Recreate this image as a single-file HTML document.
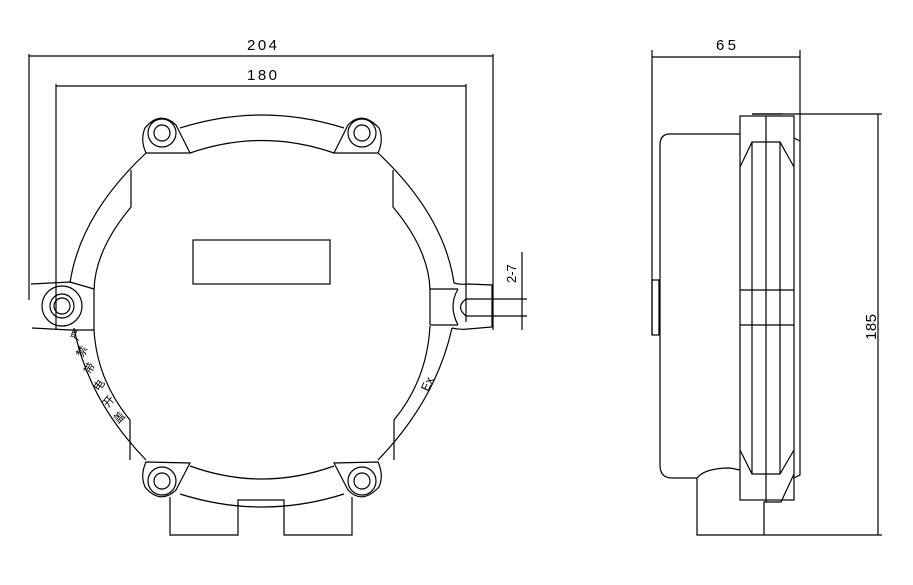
<!DOCTYPE html>
<html><head><meta charset="utf-8"><style>
html,body{margin:0;padding:0;background:#fff;}
svg{display:block}
text{font-family:"Liberation Sans","Noto Sans CJK SC",sans-serif;fill:#000}
</style></head><body>
<svg width="913" height="585" viewBox="0 0 913 585" xmlns="http://www.w3.org/2000/svg" fill="none" stroke="#000" stroke-width="1.2">
<!-- dimensions front -->
<line x1="29" y1="56" x2="493" y2="56"/>
<line x1="56" y1="86" x2="466" y2="86"/>
<line x1="29" y1="54" x2="29" y2="300"/>
<line x1="56" y1="84" x2="56" y2="330"/>
<line x1="493" y1="54" x2="493" y2="330"/>
<line x1="466" y1="84" x2="466" y2="322"/>
<text x="262" y="50" font-size="15" text-anchor="middle" stroke="none" textLength="30" font-family="Liberation Serif">204</text>
<text x="262" y="80" font-size="15" text-anchor="middle" stroke="none" textLength="30" font-family="Liberation Serif">180</text>
<!-- body outer arcs -->
<path d="M180 128 Q262 102 344 128"/>
<path d="M190 153 Q262 128 334 153"/>
<path d="M180 494 Q262 520 344 494"/>
<path d="M190 466 Q262 492 334 466"/>
<!-- left outer arc -->
<path d="M146 153 Q80 215 70 283"/>
<path d="M74 328 Q88 400 146 460"/>
<path d="M131 170 L131 207 Q95 250 94 290"/>
<path d="M94 330 Q97 380 130 420 L130 460"/>
<!-- right -->
<path d="M378 153 Q444 215 454 283"/>
<path d="M452 328 Q436 400 378 460"/>
<path d="M393 170 L393 207 Q429 250 430 290"/>
<path d="M430 326 Q427 380 394 420 L394 460"/>
<!-- display rect -->
<rect x="193" y="240" width="137" height="44"/>
<!-- lugs -->
<g>
<path d="M146 153 Q140 140 145 128 Q160 110 176 125 L190 153 Z"/>
<circle cx="162" cy="133" r="14"/><circle cx="162" cy="133" r="8"/>
</g>
<g>
<path d="M378 153 Q384 140 379 128 Q362 110 348 125 L334 153 Z"/>
<circle cx="362" cy="133" r="14"/><circle cx="362" cy="133" r="8"/>
</g>
<g>
<path d="M146 462 Q140 475 145 487 Q160 505 176 490 L190 463 Z"/>
<circle cx="162" cy="481" r="14"/><circle cx="162" cy="481" r="8"/>
</g>
<g>
<path d="M378 462 Q384 475 379 487 Q362 505 348 490 L334 463 Z"/>
<circle cx="362" cy="481" r="14"/><circle cx="362" cy="481" r="8"/>
</g>
<!-- left side lug -->
<path d="M31 284 L70 282 L94 289 L94 330 L70 330 L32 328"/>
<circle cx="62" cy="306" r="20"/><circle cx="62" cy="306" r="12"/><circle cx="62" cy="306" r="8"/>
<!-- right side lug -->
<path d="M430 289 L430 325"/>
<path d="M430 289 L458 289"/>
<path d="M430 325 L458 325"/>
<path d="M454 283 Q460 285 468 284 L492 285 L492 327 L468 329 Q460 330 452 328"/>
<path d="M458 289 Q448 306 458 325"/>
<path d="M466 299 Q455 307 466 316"/>
<line x1="466" y1="299" x2="527" y2="299"/>
<line x1="466" y1="316" x2="527" y2="316"/>
<line x1="522" y1="252" x2="522" y2="330"/>
<text x="0" y="0" font-size="13" stroke="none" font-family="Liberation Serif" transform="translate(516,283) rotate(-90)">2-7</text>
<!-- bottom boxes -->
<path d="M170 497 L170 535 L238 535 L238 500 L284 500 L284 535 L352 535 L352 497"/>
<!-- chinese text -->
<g font-size="11" stroke="none" fill="#000">
<text transform="translate(78,341) rotate(-70)">严</text>
<text transform="translate(83,358) rotate(-65)">禁</text>
<text transform="translate(90,375) rotate(-60)">带</text>
<text transform="translate(99,392) rotate(-55)">电</text>
<text transform="translate(108,408) rotate(-50)">开</text>
<text transform="translate(118,424) rotate(-45)">盖</text>
</g>
<text transform="translate(428,392) rotate(-65)" font-size="12" stroke="none" font-family="Liberation Serif">Ex</text>

<!-- side view -->
<line x1="652" y1="57" x2="800" y2="57"/>
<line x1="652" y1="50" x2="652" y2="335"/>
<line x1="800" y1="50" x2="800" y2="141"/>
<text x="726" y="50" font-size="15" text-anchor="middle" stroke="none" textLength="20" font-family="Liberation Serif">65</text>
<rect x="652" y="280" width="7" height="55"/>
<path d="M740 134 L670 134 Q660 134 660 145 L660 465 Q660 478 672 478 L697 478 Q705 468 730 468 L740 470"/>
<rect x="740" y="116" width="54" height="384"/>
<line x1="752" y1="114" x2="782" y2="114"/>
<line x1="766" y1="116" x2="766" y2="502"/>
<path d="M740 167 L752 142 L780 142 L794 167"/>
<path d="M740 450 L752 474 L780 474 L794 450"/>
<line x1="752" y1="142" x2="752" y2="474"/>
<line x1="780" y1="142" x2="780" y2="474"/>
<line x1="740" y1="290" x2="794" y2="290"/>
<line x1="740" y1="325" x2="794" y2="325"/>
<path d="M794 138 L800 141 L800 475 L794 478"/>
<path d="M794 474 L781 502 L764 502 L764 535"/>
<path d="M697 478 L697 535 L882 535"/>
<line x1="752" y1="114" x2="882" y2="114"/>
<line x1="878" y1="114" x2="878" y2="535"/>
<text transform="translate(876,340) rotate(-90)" font-size="15" stroke="none" textLength="26" font-family="Liberation Serif">185</text>
</svg>
</body></html>
